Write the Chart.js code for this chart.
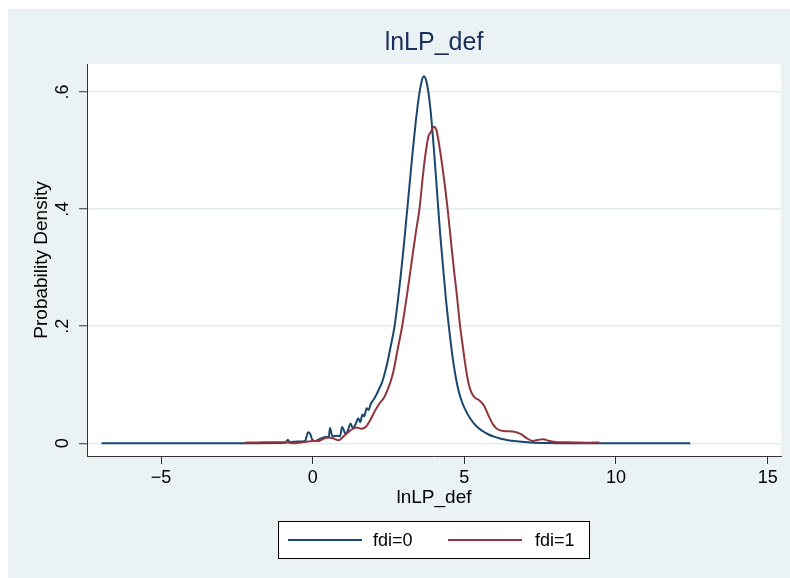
<!DOCTYPE html>
<html>
<head>
<meta charset="utf-8">
<script src="https://cdn.jsdelivr.net/npm/chart.js@4.4.1/dist/chart.umd.min.js"></script>
<style>
  html, body { margin: 0; padding: 0; background: #ffffff; }
  #wrap { width: 790px; height: 578px; }
</style>
</head>
<body>
<div id="wrap"><canvas id="densityChart" width="790" height="578"></canvas></div>
<script>
// kernel density of lnLP_def
const blueX = [-6.96, -3, -1.2, -0.9, -0.82, -0.75, -0.5, -0.25, -0.15, -0.08, 0.0, 0.1, 0.25, 0.45, 0.53, 0.57, 0.65, 0.8, 0.9, 0.97, 1.08, 1.15, 1.25, 1.32, 1.42, 1.5, 1.57, 1.64, 1.7, 1.78, 1.84, 1.92, 2.0, 2.1, 2.2, 2.3, 2.45, 2.57, 2.7, 2.8, 2.9, 3.0, 3.1, 3.2, 3.3, 3.4, 3.5, 3.6, 3.67, 3.74, 3.82, 3.9, 4.0, 4.1, 4.2, 4.3, 4.4, 4.5, 4.6, 4.7, 4.8, 4.9, 5.0, 5.2, 5.4, 5.6, 5.8, 6.0, 6.4, 6.8, 7.2, 7.8, 8.5, 10, 12.45];
const blueY = [0, 0, 0.0005, 0.001, 0.006, 0.002, 0.003, 0.004, 0.019, 0.016, 0.005, 0.004, 0.008, 0.011, 0.010, 0.026, 0.012, 0.013, 0.012, 0.028, 0.017, 0.02, 0.034, 0.026, 0.033, 0.043, 0.036, 0.049, 0.046, 0.06, 0.057, 0.068, 0.074, 0.083, 0.094, 0.106, 0.135, 0.165, 0.2, 0.24, 0.285, 0.335, 0.39, 0.445, 0.5, 0.55, 0.592, 0.62, 0.627, 0.62, 0.598, 0.562, 0.5, 0.43, 0.36, 0.3, 0.243, 0.195, 0.152, 0.118, 0.092, 0.074, 0.061, 0.042, 0.029, 0.021, 0.015, 0.011, 0.0055, 0.003, 0.0015, 0.0005, 0.0001, 0, 0];

const redX = [-2.25, -1.8, -1.3, -0.9, -0.6, -0.3, 0.0, 0.2, 0.4, 0.55, 0.7, 0.85, 1.0, 1.15, 1.3, 1.45, 1.6, 1.75, 1.9, 2.05, 2.2, 2.35, 2.5, 2.65, 2.8, 2.95, 3.1, 3.25, 3.4, 3.52, 3.65, 3.75, 3.82, 3.9, 3.99, 4.08, 4.17, 4.27, 4.36, 4.45, 4.55, 4.65, 4.75, 4.85, 4.95, 5.05, 5.15, 5.25, 5.35, 5.5, 5.65, 5.8, 5.95, 6.1, 6.3, 6.6, 6.85, 7.05, 7.25, 7.45, 7.6, 7.8, 8.1, 8.6, 9.0, 9.45];
const redY = [0.001, 0.0015, 0.002, 0.002, 0.0, 0.002, 0.004, 0.004, 0.009, 0.01, 0.008, 0.005, 0.011, 0.018, 0.024, 0.027, 0.025, 0.028, 0.04, 0.055, 0.068, 0.078, 0.095, 0.12, 0.16, 0.2, 0.25, 0.305, 0.36, 0.4, 0.465, 0.505, 0.525, 0.532, 0.541, 0.535, 0.51, 0.475, 0.44, 0.4, 0.35, 0.3, 0.255, 0.205, 0.165, 0.128, 0.1, 0.085, 0.078, 0.073, 0.064, 0.047, 0.032, 0.024, 0.021, 0.02, 0.016, 0.009, 0.004, 0.006, 0.007, 0.004, 0.002, 0.0015, 0.001, 0.0015];

const seriesNames = ['fdi=0', 'fdi=1'];
const seriesColors = ['#1a476f', '#90353b'];

const xTicks = [-5, 0, 5, 10, 15];
const yTicks = [0, 0.2, 0.4, 0.6];
const yTickLabels = ['0', '.2', '.4', '.6'];

function toPoints(xs, ys) {
    return xs.map(function(x, i) { return { x: x, y: ys[i] }; });
}

// stata-ish background: white border, bluish graph region, white plot region
const backdrop = {
    id: 'backdrop',
    beforeDraw(chart) {
        const c = chart.ctx;
        const a = chart.chartArea;
        c.save();
        c.fillStyle = '#ffffff';
        c.fillRect(0, 0, chart.width, chart.height);
        c.fillStyle = '#eaf2f3';
        c.fillRect(8, 9, chart.width - 8, chart.height - 9);
        c.fillStyle = '#ffffff';
        c.fillRect(a.left, a.top, a.right - a.left, a.bottom - a.top);
        c.restore();
    }
};

// boxed legend under the axis title
const boxLegend = {
    id: 'boxLegend',
    afterDraw(chart) {
        const c = chart.ctx;
        const lineStart = [288, 448];
        const lineLen = 74;
        const textStart = [373, 535];
        const midY = 540;
        c.save();
        c.fillStyle = '#ffffff';
        c.fillRect(278.5, 521.5, 311, 37);
        c.strokeStyle = '#000000';
        c.lineWidth = 1;
        c.strokeRect(278.5, 521.5, 311, 37);
        chart.data.datasets.forEach(function(ds, i) {
            c.strokeStyle = ds.borderColor;
            c.lineWidth = 2;
            c.beginPath();
            c.moveTo(lineStart[i], midY);
            c.lineTo(lineStart[i] + lineLen, midY);
            c.stroke();
            c.fillStyle = '#000000';
            c.font = '18px "Liberation Sans", Arial, sans-serif';
            c.textBaseline = 'middle';
            c.textAlign = 'left';
            c.fillText(ds.label, textStart[i], midY + 1);
        });
        c.restore();
    }
};

const ctx = document.getElementById('densityChart').getContext('2d');
const densityChart = new Chart(ctx, {
    type: 'line',
    data: {
        datasets: [{
            label: seriesNames[0],
            data: toPoints(blueX, blueY),
            borderColor: seriesColors[0],
            borderWidth: 2,
            pointRadius: 0,
            cubicInterpolationMode: 'monotone',
            fill: false,
            order: 1
        }, {
            label: seriesNames[1],
            data: toPoints(redX, redY),
            borderColor: seriesColors[1],
            borderWidth: 2,
            pointRadius: 0,
            cubicInterpolationMode: 'monotone',
            fill: false,
            order: 0
        }]
    },
    options: {
        responsive: false,
        animation: false,
        layout: { padding: { left: 0, top: 0, right: 9, bottom: 69 } },
        plugins: {
            legend: { display: false },
            tooltip: { enabled: false },
            title: {
                display: true,
                text: 'lnLP_def',
                fullSize: false,
                color: '#1c2e5c',
                font: { family: '"Liberation Sans", Arial, sans-serif', size: 25, weight: 'normal', lineHeight: 1.2 },
                padding: { top: 28, bottom: 6 }
            }
        },
        scales: {
            x: {
                type: 'linear',
                min: -7.44,
                max: 15.44,
                afterBuildTicks: function(scale) {
                    scale.ticks = xTicks.map(function(v) { return { value: v }; });
                },
                afterFit: function(scale) { scale.height = 53; },
                ticks: {
                    color: '#000000',
                    padding: 3,
                    maxRotation: 0,
                    font: { family: '"Liberation Sans", Arial, sans-serif', size: 18 },
                    callback: function(v) { return v < 0 ? '\u2212' + Math.abs(v) : String(v); }
                },
                grid: {
                    drawOnChartArea: false,
                    drawTicks: true,
                    tickLength: 8,
                    tickColor: '#333333',
                    tickWidth: 1
                },
                border: { display: true, color: '#333333', width: 1 },
                title: {
                    display: true,
                    text: 'lnLP_def',
                    color: '#000000',
                    font: { family: '"Liberation Sans", Arial, sans-serif', size: 19, lineHeight: 1.2 },
                    padding: { top: 0, bottom: 0 }
                }
            },
            y: {
                type: 'linear',
                min: -0.0217,
                max: 0.648,
                afterBuildTicks: function(scale) {
                    scale.ticks = yTicks.map(function(v) { return { value: v }; });
                },
                afterFit: function(scale) { scale.width = 87; },
                ticks: {
                    color: '#000000',
                    padding: 8,
                    minRotation: 90,
                    maxRotation: 90,
                    crossAlign: 'center',
                    font: { family: '"Liberation Sans", Arial, sans-serif', size: 18 },
                    callback: function(v, i) { return yTickLabels[i]; }
                },
                grid: {
                    color: '#e3edef',
                    lineWidth: 1.5,
                    drawTicks: true,
                    tickLength: 8,
                    tickColor: '#333333',
                    tickWidth: 1
                },
                border: { display: true, color: '#333333', width: 1 },
                title: {
                    display: true,
                    text: 'Probability Density',
                    color: '#000000',
                    font: { family: '"Liberation Sans", Arial, sans-serif', size: 19, lineHeight: 1.2 },
                    padding: { top: 30, bottom: 0 }
                }
            }
        }
    },
    plugins: [backdrop, boxLegend]
});
</script>
</body>
</html>
